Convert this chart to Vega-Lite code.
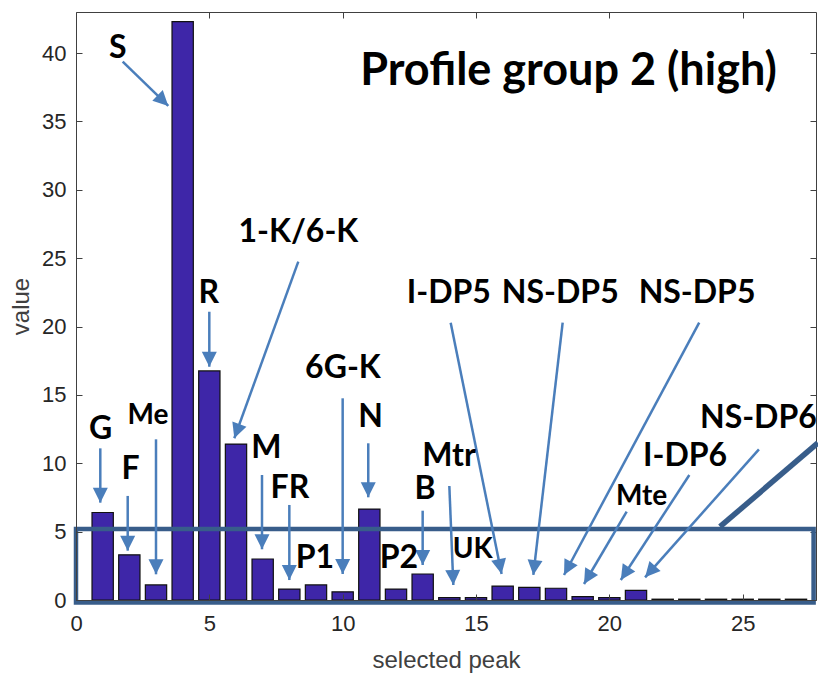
{
  "$schema": "https://vega.github.io/schema/vega-lite/v6.json",
  "width": 740,
  "height": 588,
  "autosize": "none",
  "padding": {"left": 76, "top": 12, "right": 2, "bottom": 74},
  "background": "white",
  "config": {"view": {"stroke": null}},
  "datasets": {
    "bars": [
      {"peak": 1, "value": 6.4}, {"peak": 2, "value": 3.3}, {"peak": 3, "value": 1.1},
      {"peak": 4, "value": 42.3}, {"peak": 5, "value": 16.75}, {"peak": 6, "value": 11.4},
      {"peak": 7, "value": 3.0}, {"peak": 8, "value": 0.8}, {"peak": 9, "value": 1.1},
      {"peak": 10, "value": 0.6}, {"peak": 11, "value": 6.65}, {"peak": 12, "value": 0.8},
      {"peak": 13, "value": 1.9}, {"peak": 14, "value": 0.17}, {"peak": 15, "value": 0.17},
      {"peak": 16, "value": 1.02}, {"peak": 17, "value": 0.93}, {"peak": 18, "value": 0.86},
      {"peak": 19, "value": 0.24}, {"peak": 20, "value": 0.17}, {"peak": 21, "value": 0.7},
      {"peak": 22, "value": 0.06}, {"peak": 23, "value": 0.06}, {"peak": 24, "value": 0.06},
      {"peak": 25, "value": 0.06}, {"peak": 26, "value": 0.06}, {"peak": 27, "value": 0.06}
    ],
    "bigLabels": [
      {"x": 1.564, "y": 39.64, "text": "S"},
      {"x": 8.34, "y": 26.18, "text": "1-K/6-K"},
      {"x": 4.98, "y": 21.72, "text": "R"},
      {"x": 0.926, "y": 11.77, "text": "G"},
      {"x": 2.05, "y": 8.85, "text": "F"},
      {"x": 7.14, "y": 10.38, "text": "M"},
      {"x": 8.02, "y": 7.46, "text": "FR"},
      {"x": 8.96, "y": 2.34, "text": "P1"},
      {"x": 10.01, "y": 16.24, "text": "6G-K"},
      {"x": 11.05, "y": 12.65, "text": "N"},
      {"x": 12.11, "y": 2.34, "text": "P2"},
      {"x": 13.09, "y": 7.39, "text": "B"},
      {"x": 13.99, "y": 9.8, "text": "Mtr"},
      {"x": 13.98, "y": 21.72, "text": "I-DP5"},
      {"x": 18.16, "y": 21.72, "text": "NS-DP5"},
      {"x": 23.29, "y": 21.72, "text": "NS-DP5"},
      {"x": 22.84, "y": 9.8, "text": "I-DP6"},
      {"x": 25.59, "y": 12.58, "text": "NS-DP6"}
    ],
    "smallLabels": [
      {"x": 2.7, "y": 12.87, "text": "Me"},
      {"x": 14.88, "y": 3.07, "text": "UK"},
      {"x": 21.21, "y": 6.95, "text": "Mte"}
    ],
    "heading": [
      {"x": 18.47, "y": 37.66, "text": "Profile group 2 (high)"}
    ],
    "arrows": [
      {"x": 1.751, "y": 39.37, "x2": 3.461, "y2": 36.13},
      {"x": 8.336, "y": 24.74, "x2": 5.936, "y2": 11.83},
      {"x": 4.999, "y": 21.08, "x2": 4.999, "y2": 17.06},
      {"x": 0.911, "y": 11.09, "x2": 0.911, "y2": 7.12},
      {"x": 1.939, "y": 7.61, "x2": 1.939, "y2": 3.61},
      {"x": 3.0, "y": 11.75, "x2": 3.0, "y2": 1.88},
      {"x": 6.975, "y": 9.14, "x2": 6.975, "y2": 3.71},
      {"x": 8.0, "y": 6.95, "x2": 8.0, "y2": 1.46},
      {"x": 10.0, "y": 14.75, "x2": 10.0, "y2": 1.9},
      {"x": 10.96, "y": 11.46, "x2": 10.96, "y2": 7.51},
      {"x": 13.0, "y": 6.53, "x2": 13.0, "y2": 2.56},
      {"x": 14.0, "y": 8.34, "x2": 14.15, "y2": 1.1},
      {"x": 14.05, "y": 20.28, "x2": 15.96, "y2": 1.9},
      {"x": 18.25, "y": 20.28, "x2": 17.15, "y2": 1.83},
      {"x": 23.37, "y": 20.28, "x2": 18.3, "y2": 1.83},
      {"x": 20.65, "y": 6.46, "x2": 19.05, "y2": 1.17},
      {"x": 23.0, "y": 9.14, "x2": 20.43, "y2": 1.46},
      {"x": 25.61, "y": 11.02, "x2": 21.34, "y2": 1.66}
    ],
    "box": [
      {"x": 0, "x2": 27.66, "y": 5.19, "y2": -0.18}
    ],
    "pointer": [
      {"x": 24.15, "y": 5.36, "x2": 27.82, "y2": 11.49}
    ]
  },
  "resolve": {"axis": {"x": "independent", "y": "independent"}},
  "layer": [
    {
      "data": {"name": "bars"},
      "mark": {"type": "bar", "size": 21.3, "color": "#3E26A8", "stroke": "#111111", "strokeWidth": 1.2, "orient": "vertical"},
      "encoding": {
        "x": {
          "field": "peak", "type": "quantitative",
          "scale": {"domain": [0, 27.75], "nice": false, "zero": false, "padding": 0},
          "axis": {
            "orient": "bottom", "values": [0, 5, 10, 15, 20, 25], "tickSize": -6,
            "labelPadding": 19, "labelFont": "Liberation Sans", "labelFontSize": 22,
            "labelColor": "#262626", "labelFlush": false,
            "title": "selected peak", "titleFont": "Liberation Sans", "titleFontSize": 24,
            "titleFontWeight": "normal", "titleColor": "#404040", "titlePadding": 14,
            "grid": false, "domainColor": "#404040", "tickColor": "#404040", "zindex": 1
          }
        },
        "y": {
          "field": "value", "type": "quantitative",
          "scale": {"domain": [0, 43], "nice": false, "zero": false, "padding": 0},
          "axis": {
            "orient": "left", "values": [0, 5, 10, 15, 20, 25, 30, 35, 40], "tickSize": -6,
            "labelPadding": 16, "labelFont": "Liberation Sans", "labelFontSize": 22,
            "labelColor": "#262626", "labelFlush": false,
            "title": "value", "titleFont": "Liberation Sans", "titleFontSize": 24,
            "titleFontWeight": "normal", "titleColor": "#404040", "titlePadding": 8,
            "grid": false, "domainColor": "#404040", "tickColor": "#404040", "zindex": 1
          }
        }
      }
    },
    {
      "data": {"name": "box"},
      "mark": {"type": "rect", "filled": false, "stroke": "#385D8A", "strokeWidth": 4.5, "clip": false},
      "encoding": {
        "x": {"field": "x", "type": "quantitative", "axis": {"orient": "top", "labels": false, "title": null, "values": [0, 5, 10, 15, 20, 25], "tickSize": -6, "grid": false, "domainColor": "#404040", "tickColor": "#404040"}},
        "x2": {"field": "x2"},
        "y": {"field": "y", "type": "quantitative", "axis": {"orient": "right", "labels": false, "title": null, "values": [0, 5, 10, 15, 20, 25, 30, 35, 40], "tickSize": -6, "grid": false, "domainColor": "#404040", "tickColor": "#404040"}},
        "y2": {"field": "y2"}
      }
    },
    {
      "data": {"name": "pointer"},
      "mark": {"type": "rule", "color": "#385D8A", "strokeWidth": 5.5, "clip": false},
      "encoding": {
        "x": {"field": "x", "type": "quantitative", "axis": null},
        "x2": {"field": "x2"},
        "y": {"field": "y", "type": "quantitative", "axis": null},
        "y2": {"field": "y2"}
      }
    },
    {
      "data": {"name": "arrows"},
      "mark": {"type": "rule", "color": "#4A7EBB", "strokeWidth": 2.5},
      "encoding": {
        "x": {"field": "x", "type": "quantitative", "axis": null},
        "x2": {"field": "x2"},
        "y": {"field": "y", "type": "quantitative", "axis": null},
        "y2": {"field": "y2"}
      }
    },
    {
      "data": {"name": "arrows"},
      "transform": [
        {"calculate": "atan2((datum.x2 - datum.x) * 26.667, (datum.y2 - datum.y) * 13.674) * 180 / PI", "as": "ang"}
      ],
      "mark": {"type": "point", "shape": "M0,0L-0.5,1L0.5,1Z", "filled": true, "color": "#4A7EBB", "size": 900, "opacity": 1, "strokeWidth": 0},
      "encoding": {
        "x": {"field": "x2", "type": "quantitative", "axis": null},
        "y": {"field": "y2", "type": "quantitative", "axis": null},
        "angle": {"field": "ang", "type": "quantitative", "scale": null}
      }
    },
    {
      "data": {"name": "bigLabels"},
      "mark": {"type": "text", "font": "Lato", "fontWeight": "bold", "fontSize": 32, "align": "center", "baseline": "alphabetic", "color": "#000000"},
      "encoding": {
        "x": {"field": "x", "type": "quantitative", "axis": null},
        "y": {"field": "y", "type": "quantitative", "axis": null},
        "text": {"field": "text"}
      }
    },
    {
      "data": {"name": "smallLabels"},
      "mark": {"type": "text", "font": "Lato", "fontWeight": "bold", "fontSize": 28, "align": "center", "baseline": "alphabetic", "color": "#000000"},
      "encoding": {
        "x": {"field": "x", "type": "quantitative", "axis": null},
        "y": {"field": "y", "type": "quantitative", "axis": null},
        "text": {"field": "text"}
      }
    },
    {
      "data": {"name": "heading"},
      "mark": {"type": "text", "font": "Lato", "fontWeight": "bold", "fontSize": 45, "align": "center", "baseline": "alphabetic", "color": "#000000"},
      "encoding": {
        "x": {"field": "x", "type": "quantitative", "axis": null},
        "y": {"field": "y", "type": "quantitative", "axis": null},
        "text": {"field": "text"}
      }
    }
  ]
}
